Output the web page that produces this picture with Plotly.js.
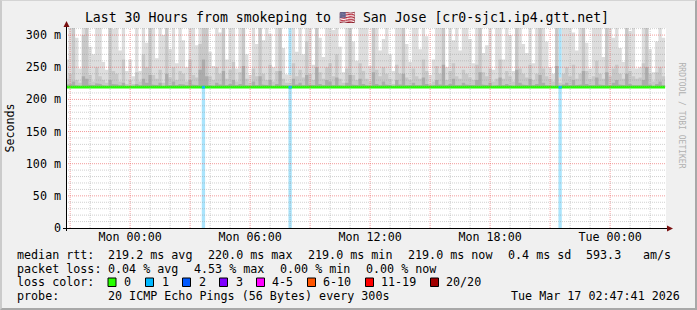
<!DOCTYPE html>
<html><head><meta charset="utf-8">
<script src="https://cdn.plot.ly/plotly-3.0.1.min.js"></script>
<style>
html,body{margin:0;padding:0;background:#f0f0f0;}
#wrap{position:relative;width:697px;height:310px;overflow:hidden;}
#chart{width:697px;height:310px;}
#frame{position:absolute;left:0;top:0;width:697px;height:310px;box-sizing:border-box;border-top:1px solid #d4d4d4;border-left:2px solid #cbcbcb;border-right:2px solid #a8a8a8;border-bottom:2px solid #a8a8a8;pointer-events:none;}
</style></head><body>
<div id="wrap"><div id="chart"></div><div id="frame"></div></div>
<script>
// ---------- data ----------
const titleText = 'Last 30 Hours from smokeping to \u{1F1FA}\u{1F1F8} San Jose [cr0-sjc1.ip4.gtt.net]';
const rangeStart = '2026-03-15 20:47:41';
const rangeEnd = '2026-03-17 02:47:41';
const firstBin = '2026-03-15 20:50:00';   // centre of first 10-minute sample
const binMinutes = 10;

// median rtt per sample (ms)
const medianRtt = [
219,219,219,219,219,219,219,220,220,219, 219,219,220,219,220,219,219,219,219,219,
219,219,220,220,219,219,219,219,219,219, 219,219,219,219,219,220,220,219,219,219,
219,219,219,219,219,219,219,220,219,219, 220,220,219,219,219,219,219,219,219,219,
219,219,219,219,219,220,219,219,219,219, 219,219,219,219,220,220,219,219,219,219,
219,219,219,219,219,219,219,219,219,220, 220,219,219,219,219,219,219,219,219,219,
219,219,219,220,219,219,219,219,219,219, 219,219,219,219,219,219,220,220,219,219,
219,219,220,219,219,219,219,219,219,219, 219,220,219,219,219,219,219,219,219,219,
219,219,219,219,219,219,219,220,219,219, 219,219,219,220,219,219,219,219,219,219,
219,219,219,219,219,220,219,219,219,219, 219,219,219,219,220,220,219,219,219,219];

// smoke: slowest pings per sample (ms; values above ~311 run off the chart)
const smokeMax = [
262,320,320,296,248,320,320,282,270,320, 320,258,246,320,310,320,276,320,244,262,
236,320,244,320,288,320,320,264,320,300, 320,278,320,256,320,292,250,320,320,284,
320,320,320,274,252,320,304,320,262,320, 320,248,320,320,270,238,320,286,320,292,
320,302,250,320,320,280,239,238,320,274, 320,270,320,320,254,320,296,266,320,320,
308,320,282,242,320,320,290,260,320,312, 320,252,320,320,276,294,320,270,244,320,
320,320,286,258,320,320,278,320,298,238, 262,320,320,320,250,320,292,320,276,320,
320,294,256,320,320,272,284,320,246,320, 320,262,320,300,244,320,320,286,272,320,
256,320,320,320,290,250,240,320,234,320, 320,320,304,276,320,320,288,248,320,320,
320,266,320,320,296,320,280,258,320,306, 320,248,250,320,320,278,242,290,320,296];

// smoke: upper-middle pings
const smokeMid = [
232,240,320,230,226,300,320,238,228,250, 236,230,226,320,244,240,228,262,224,230,
224,242,228,270,250,320,238,232,246,226, 320,234,250,230,244,240,228,262,238,234,
286,320,320,236,230,250,240,320,232,246, 258,228,242,320,232,226,248,236,320,240,
230,254,228,244,320,232,226,226,256,236, 246,234,290,240,230,320,242,232,250,256,
236,270,232,226,248,320,238,230,256,244, 232,228,320,246,236,250,240,232,224,254,
240,320,234,230,248,236,232,262,244,224, 228,252,240,320,230,244,256,236,232,246,
240,234,230,254,320,242,236,248,228,232, 262,232,244,236,228,320,248,240,234,254,
230,240,320,248,236,232,228,320,226,240, 250,236,254,232,240,320,244,232,236,260,
240,232,320,236,248,254,240,232,320,244, 236,232,234,256,320,240,228,242,250,236];

// smoke: pings close to the median
const smokeLow = [
223,224,228,222,221,236,232,223,222,225, 224,222,221,230,224,223,222,226,221,222,
221,224,222,232,226,238,223,222,226,221, 240,222,228,222,224,223,222,230,223,222,
246,262,236,222,221,226,223,244,222,224, 230,222,224,252,222,221,228,222,236,223,
222,230,221,224,244,222,221,221,232,223, 226,222,238,223,222,250,224,222,230,228,
222,234,222,221,226,238,223,222,232,224, 222,221,242,224,222,228,223,222,221,230,
223,240,222,222,226,222,222,234,224,221, 222,230,223,254,222,224,232,222,222,226,
223,222,222,230,242,223,222,226,221,222, 234,222,224,222,221,246,226,223,222,232,
222,224,238,226,222,222,221,252,221,223, 226,222,230,222,223,244,224,222,222,234,
223,222,242,222,226,230,223,222,240,224, 222,222,222,230,250,223,221,224,228,222];

// samples with 1 lost ping (loss colour "1")
const lossTimes = ['2026-03-16 03:40:00','2026-03-16 08:00:00','2026-03-16 21:30:00'];
const lossMedian = [219, 219, 219];
const lossBackgroundTop = 1000;   // rrdtool draws the loss background as an INF area

const yTickVals = [0,50,100,150,200,250,300];
const yTickText = ['0','50 m','100 m','150 m','200 m','250 m','300 m'];
const xTickVals = ['2026-03-15 21:00','2026-03-16 00:00','2026-03-16 03:00','2026-03-16 06:00','2026-03-16 09:00',
                   '2026-03-16 12:00','2026-03-16 15:00','2026-03-16 18:00','2026-03-16 21:00','2026-03-17 00:00'];
const xTickText = ['','Mon 00:00','','Mon 06:00','','Mon 12:00','','Mon 18:00','','Tue 00:00'];

const rowLabels = ['median rtt:','packet loss:','loss color:','probe:'];
const rttStats = ['219.2 ms avg','220.0 ms max','219.0 ms min','219.0 ms now','0.4 ms sd','593.3','am/s'];
const lossStats = ['0.04 % avg','4.53 % max','0.00 % min','0.00 % now'];
const lossLevels = ['0','1','2','3','4-5','6-10','11-19','20/20'];
const lossColors = ['#26ff00','#00b8ff','#0059ff','#7e00ff','#ff00ff','#ff5500','#ff0000','#a10000'];
const probeText = '20 ICMP Echo Pings (56 Bytes) every 300s';
const stampText = 'Tue Mar 17 02:47:41 2026';
const watermark = 'RRDTOOL / TOBI OETIKER';

// ---------- layout constants (pixels) ----------
const W = 697, H = 310, L = 66, R = 31, T = 28, B = 82;
const PW = W - L - R, PH = H - T - B;
const FONT = 'DejaVu Sans Mono, monospace';
const FS = 11.7;
const px = x => (x - L) / PW;
const py = y => (T + PH - y) / PH;
const rowY = [255, 268.7, 282.3, 296];
const rttX = [107, 207, 307, 407, 507, 585, 642];
const lossX = [107, 193, 279, 365];
const boxX = [108, 145.5, 182.5, 219.5, 256.5, 307.5, 365.5, 430.5];
const boxLabelX = [123, 160.5, 197.5, 234.5, 271, 321.8, 380, 445];

const toMs = s => Date.parse(s.replace(' ', 'T') + 'Z');
const binMs = binMinutes * 60000;
const t0 = toMs(firstBin);
const xs = medianRtt.map((_, i) => t0 + i * binMs);
// each sample is drawn as a flat step across its 10-minute slot
const sx = [];
xs.forEach(t => sx.push(t - binMs / 2, t + binMs / 2));
const step = arr => { const o = []; arr.forEach(v => o.push(v, v)); return o; };

const traces = [];
// loss background: full-height columns, drawn first so the smoke covers them
const bx = [], by = [];
lossTimes.forEach(t => {
  const m = toMs(t);
  bx.push(m - binMs/2, m - binMs/2, m + binMs/2, m + binMs/2, null);
  by.push(0, lossBackgroundTop, lossBackgroundTop, 0, null);
});
traces.push({type:'scatter', mode:'lines', x: bx, y: by, fill:'toself', fillcolor:'rgb(170,228,252)',
  line:{width:0}, hoverinfo:'skip'});
// smoke layers: filled from the median up to each ping level
const smoke = [[smokeMax,'#dddddd'],[smokeMid,'#c8c8c8'],[smokeLow,'#acacac']];
smoke.forEach(([arr, col]) => {
  traces.push({type:'scatter', mode:'lines', x: sx, y: step(medianRtt), line:{width:0}, hoverinfo:'skip'});
  traces.push({type:'scatter', mode:'lines', x: sx, y: step(arr), line:{width:0}, fill:'tonexty', fillcolor: col, hoverinfo:'skip'});
});
// median line
traces.push({type:'scatter', mode:'lines', x: sx, y: step(medianRtt),
  line:{color:'#26ff00', width:2.6}, hoverinfo:'skip'});
// median coloured by loss
const lx = [], ly = [];
lossTimes.forEach((t, i) => { const m = toMs(t); lx.push(m - binMs/2, m + binMs/2, null); ly.push(lossMedian[i], lossMedian[i], null); });
traces.push({type:'scatter', mode:'lines', x: lx, y: ly, line:{color:'#00b8ff', width:2.6}, hoverinfo:'skip'});

const shapes = [];
// grid drawn above the smoke, as rrdtool does
const hourMs = 3600000;
const g0 = toMs('2026-03-15 21:00'), g1 = toMs('2026-03-17 02:00');
for (let t = g0; t <= g1; t += hourMs) {
  const major = ((t - g0) / hourMs) % 3 === 0;
  shapes.push({type:'line', xref:'x', yref:'paper', x0:t, x1:t, y0:0, y1:1, layer:'above',
    line:{color: major ? 'rgba(235,90,90,0.6)' : 'rgba(150,150,150,0.45)', width:1, dash:'1px,1px'}});
}
for (let v = 10; v <= 310; v += 10) {
  const major = v % 50 === 0;
  shapes.push({type:'line', xref:'paper', yref:'y', x0:0, x1:1, y0:v, y1:v, layer:'above',
    line:{color: major ? 'rgba(235,90,90,0.6)' : 'rgba(150,150,150,0.45)', width:1, dash:'1px,1px'}});
}
// legend colour boxes
boxX.forEach((bxv, i) => {
  shapes.push({type:'rect', xref:'paper', yref:'paper', x0:px(bxv), x1:px(bxv+8), y0:py(286.5), y1:py(278),
    fillcolor: lossColors[i], line:{color:'#000', width:1}});
});
// axis lines (extending a little past the plot, as rrdtool draws them)
shapes.push({type:'line', xref:'paper', yref:'paper', x0:px(66.5), x1:px(66.5), y0:py(231), y1:py(25), line:{color:'#000', width:1}});
shapes.push({type:'line', xref:'paper', yref:'paper', x0:px(63), x1:px(668), y0:py(228.5), y1:py(228.5), line:{color:'#000', width:1}});

const ann = [];
const txt = (x, y, text, anchor) => ann.push({xref:'paper', yref:'paper', x:px(x), y:py(y), text, showarrow:false,
  xanchor: anchor || 'left', yanchor:'middle', font:{family:FONT, size:FS, color:'#000'}, borderpad:0});
rowLabels.forEach((t, i) => txt(16, rowY[i], t));
rttStats.forEach((t, i) => txt(rttX[i], rowY[0], t));
lossStats.forEach((t, i) => txt(lossX[i], rowY[1], t));
lossLevels.forEach((t, i) => txt(boxLabelX[i], rowY[2], t));
txt(107, rowY[3], probeText);
txt(681, rowY[3], stampText, 'right');
ann.push({xref:'paper', yref:'paper', x:px(688), y:py(60), text:watermark, textangle:90, showarrow:false,
  font:{family:FONT, size:8, color:'#b0b0b0'}});
// arrow heads
ann.push({xref:'paper', yref:'paper', axref:'paper', ayref:'paper', x:px(66.5), y:py(21), ax:px(66.5), ay:py(26),
  text:'', showarrow:true, arrowhead:2, arrowsize:1.2, arrowwidth:1, arrowcolor:'#7a1010'});
ann.push({xref:'paper', yref:'paper', axref:'paper', ayref:'paper', x:px(673), y:py(228.5), ax:px(668), ay:py(228.5),
  text:'', showarrow:true, arrowhead:2, arrowsize:1.2, arrowwidth:1, arrowcolor:'#7a1010'});

const layout = {
  width: W, height: H,
  margin: {l:L, r:R, t:T, b:B, pad:0},
  paper_bgcolor:'#f0f0f0', plot_bgcolor:'#ffffff',
  showlegend:false,
  title: {text:titleText, font:{family:FONT, size:13.2, color:'#000'}, xref:'container', yref:'container',
    x: 347/W, xanchor:'center', y: 1 - 17/H, yanchor:'middle'},
  xaxis: {type:'date', range:[rangeStart, rangeEnd], tickmode:'array', tickvals:xTickVals, ticktext:xTickText,
    showgrid:false, zeroline:false, showline:false, ticks:'', tickfont:{family:FONT, size:FS, color:'#000'}, fixedrange:true},
  yaxis: {range:[0,311], tickmode:'array', tickvals:yTickVals, ticktext:yTickText, showgrid:false, zeroline:false,
    showline:false, ticks:'', tickfont:{family:FONT, size:FS, color:'#000'}, ticklabelstandoff:4,
    title:{text:'Seconds', font:{family:FONT, size:FS, color:'#000'}, standoff:8}, fixedrange:true, automargin:false},
  shapes, annotations: ann
};
Plotly.newPlot('chart', traces, layout, {staticPlot:true, displayModeBar:false});
</script>
</body></html>
